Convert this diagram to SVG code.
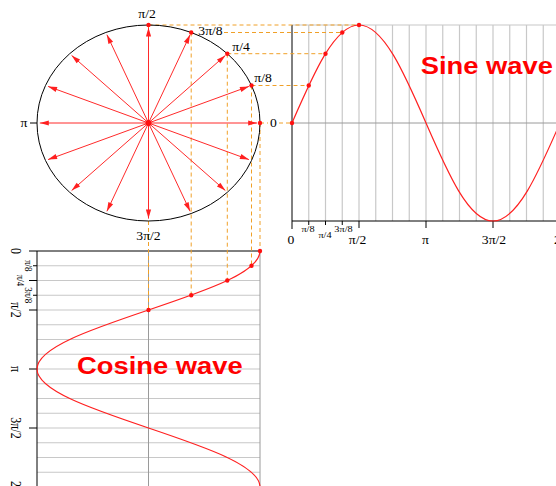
<svg xmlns="http://www.w3.org/2000/svg" width="556" height="486" viewBox="0 0 556 486">
<style>
.grid{stroke:#c8c8c8;stroke-width:1.2;fill:none}
.axis{stroke:#000;stroke-width:1;fill:none}
.zero{stroke:#9a9a9a;stroke-width:1;fill:none}
.dash{stroke:#f0a028;stroke-width:1;stroke-dasharray:4 3;fill:none}
.ray{stroke:#ff2a2a;stroke-width:1;fill:none;marker-end:url(#ah)}
.wave{stroke:#ff2020;stroke-width:1.2;fill:none}
.dot{fill:#ff1010}
.lbl{font-family:"Liberation Serif","Times New Roman",serif;font-size:12px;fill:#000;text-anchor:middle}
.sm{font-size:9px}
.title{font-family:"Liberation Sans",Arial,sans-serif;font-weight:bold;font-size:24px;fill:#ff0000}
</style>
<defs>
<marker id="ah" markerUnits="userSpaceOnUse" markerWidth="10" markerHeight="6" viewBox="-10 -3 10 6" refX="0" refY="0" orient="auto">
<path d="M0,0 L-9,-2.6 L-9,2.6 Z" fill="#ff2020"/>
</marker>
</defs>
<rect width="556" height="486" fill="#fff"/>

<g id="sine-grid">
<line class="grid" x1="292" y1="25" x2="556" y2="25"/>
<path class="grid" d="M308.75,25V221M325.5,25V221M342.25,25V221M359,25V221M375.75,25V221M392.5,25V221M409.25,25V221M426,25V221M442.75,25V221M459.5,25V221M476.25,25V221M493,25V221M509.75,25V221M526.5,25V221M543.25,25V221"/>
<line class="zero" x1="292" y1="123" x2="556" y2="123"/>
<path class="axis" d="M292,25V229M292,221H556M308.75,221V225M325.5,221V225M342.25,221V225M359,221V228M426,221V228M493,221V228"/>
</g>

<g id="cosine-grid">
<path class="grid" d="M37,265.75H260M37,280.5H260M37,295.25H260M37,310H260M37,324.75H260M37,339.5H260M37,354.25H260M37,369H260M37,383.75H260M37,398.5H260M37,413.25H260M37,428H260M37,442.75H260M37,457.5H260M37,472.25H260"/>
<path class="zero" d="M148.5,251V486M260,251V486"/>
<path class="axis" d="M29,251H260M37,251V486M33,265.75H37M29,280.5H37M33,295.25H37M29,310H37M29,369H37M29,428H37"/>
</g>

<g id="projections">
<path class="dash" d="M148.5,25V310M191.2,32.5V295.25M227.3,53.7V280.5M251.5,85.5V265.75M260,123V251"/>
<path class="dash" d="M148.5,25H359M224,32.5H342.25M227.3,53.7H325.5M251.5,85.5H308.75M260,123H268M279,123H292"/>
</g>

<g id="circle">
<ellipse cx="148.5" cy="123" rx="111.5" ry="98" fill="none" stroke="#000" stroke-width="1"/>
<line class="axis" x1="30" y1="123" x2="37" y2="123"/>
<g id="rays">
<line class="ray" x1="148.5" y1="123" x2="257.2" y2="123"/>
<line class="ray" x1="148.5" y1="123" x2="248.9" y2="86.4"/>
<line class="ray" x1="148.5" y1="123" x2="225.4" y2="55.4"/>
<line class="ray" x1="148.5" y1="123" x2="190.1" y2="34.7"/>
<line class="ray" x1="148.5" y1="123" x2="148.5" y2="27.5"/>
<line class="ray" x1="148.5" y1="123" x2="106.9" y2="34.7"/>
<line class="ray" x1="148.5" y1="123" x2="71.6" y2="55.4"/>
<line class="ray" x1="148.5" y1="123" x2="48.1" y2="86.4"/>
<line class="ray" x1="148.5" y1="123" x2="39.8" y2="123"/>
<line class="ray" x1="148.5" y1="123" x2="48.1" y2="159.6"/>
<line class="ray" x1="148.5" y1="123" x2="71.6" y2="190.6"/>
<line class="ray" x1="148.5" y1="123" x2="106.9" y2="211.3"/>
<line class="ray" x1="148.5" y1="123" x2="148.5" y2="218.6"/>
<line class="ray" x1="148.5" y1="123" x2="190.1" y2="211.3"/>
<line class="ray" x1="148.5" y1="123" x2="225.4" y2="190.6"/>
<line class="ray" x1="148.5" y1="123" x2="248.9" y2="159.6"/>
</g>
<circle class="dot" cx="148.5" cy="123" r="3"/>
<circle class="dot" cx="260" cy="123" r="2.2"/>
<circle class="dot" cx="251.5" cy="85.5" r="2.2"/>
<circle class="dot" cx="227.3" cy="53.7" r="2.2"/>
<circle class="dot" cx="191.2" cy="32.5" r="2.2"/>
<circle class="dot" cx="148.5" cy="25" r="2.2"/>
<text class="lbl" transform="translate(147,18) scale(1.14,1)">π/2</text>
<text class="lbl" transform="translate(210.5,35) scale(1.14,1)">3π/8</text>
<text class="lbl" transform="translate(241,51) scale(1.14,1)">π/4</text>
<text class="lbl" transform="translate(263,82) scale(1.14,1)">π/8</text>
<text class="lbl" transform="translate(24,127) scale(1.14,1)">π</text>
<text class="lbl" transform="translate(273.5,127) scale(1.14,1)">0</text>
<text class="lbl" transform="translate(148.5,240) scale(1.14,1)">3π/2</text>
</g>

<g id="sine-wave">
<path class="wave" d="M292,123 C313.85,72.8 334.75,25 359,25 C383.25,25 404.15,72.8 426,123 C447.85,173.2 468.75,221 493,221 C517.25,221 538.15,173.2 560,123"/>
<circle class="dot" cx="292" cy="123" r="2.2"/>
<circle class="dot" cx="308.75" cy="85.5" r="2.2"/>
<circle class="dot" cx="325.5" cy="53.7" r="2.2"/>
<circle class="dot" cx="342.25" cy="32.5" r="2.2"/>
<circle class="dot" cx="359" cy="25" r="2.2"/>
<text class="lbl" transform="translate(291,244) scale(1.14,1)">0</text>
<text class="lbl sm" transform="translate(308,232) scale(1.14,1)">π/8</text>
<text class="lbl sm" transform="translate(325,237.5) scale(1.14,1)">π/4</text>
<text class="lbl sm" transform="translate(343.5,232) scale(1.14,1)">3π/8</text>
<text class="lbl" transform="translate(357.5,244) scale(1.14,1)">π/2</text>
<text class="lbl" transform="translate(425.5,244) scale(1.14,1)">π</text>
<text class="lbl" transform="translate(494,244) scale(1.14,1)">3π/2</text>
<text class="lbl" transform="translate(561,244) scale(1.14,1)">2π</text>
<text class="title" transform="translate(420.7,74) scale(1.14,1)">Sine wave</text>
</g>

<g id="cosine-wave">
<path class="wave" d="M260,251 C260,272.35 205.62,290.76 148.5,310 C91.38,329.24 37,347.65 37,369 C37,390.35 91.38,408.76 148.5,428 C205.62,447.24 260,465.65 260,487"/>
<circle class="dot" cx="260" cy="251" r="2.2"/>
<circle class="dot" cx="251.5" cy="265.75" r="2.2"/>
<circle class="dot" cx="227.3" cy="280.5" r="2.2"/>
<circle class="dot" cx="191.2" cy="295.25" r="2.2"/>
<circle class="dot" cx="148.5" cy="310" r="2.2"/>
<text class="lbl" transform="translate(11,251) scale(1.14,1) rotate(90)">0</text>
<text class="lbl sm" transform="translate(25,265.75) scale(1.14,1) rotate(90)">π/8</text>
<text class="lbl sm" transform="translate(17,280.5) scale(1.14,1) rotate(90)">π/4</text>
<text class="lbl sm" transform="translate(25,295.25) scale(1.14,1) rotate(90)">3π/8</text>
<text class="lbl" transform="translate(11,310) scale(1.14,1) rotate(90)">π/2</text>
<text class="lbl" transform="translate(11,369) scale(1.14,1) rotate(90)">π</text>
<text class="lbl" transform="translate(11,428) scale(1.14,1) rotate(90)">3π/2</text>
<text class="lbl" transform="translate(11,487) scale(1.14,1) rotate(90)">2π</text>
<text class="title" transform="translate(77,374) scale(1.14,1)">Cosine wave</text>
</g>
</svg>
